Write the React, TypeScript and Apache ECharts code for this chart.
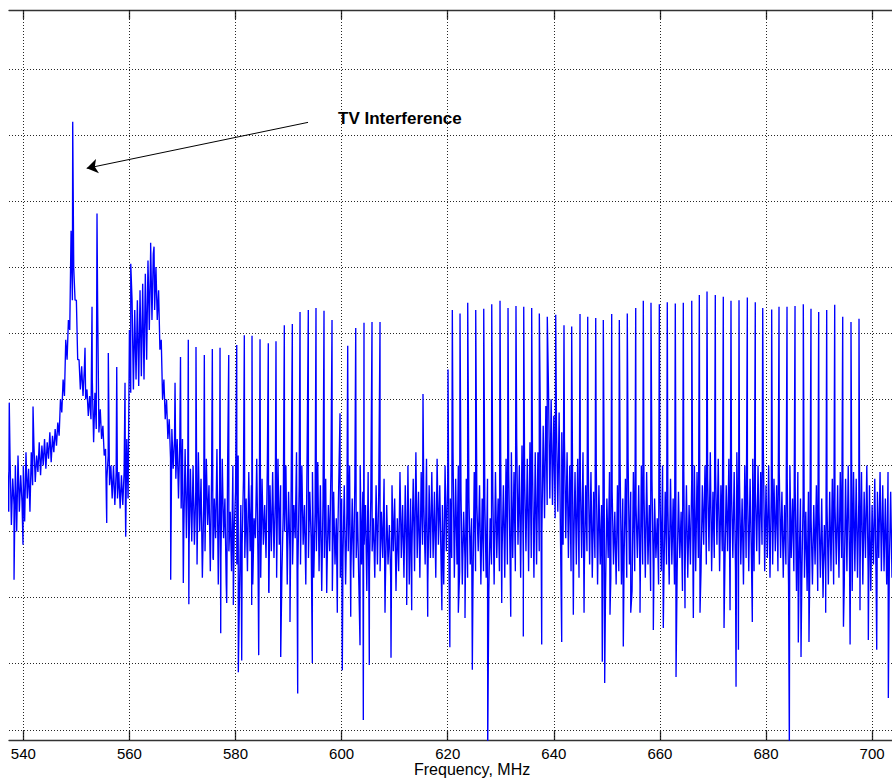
import React, { useEffect, useRef } from "react";
import * as echarts from "echarts";

// ---- axis ranges (MHz, dB) ----
const X_MIN = 537.3;
const X_MAX = 703.75;
const Y_MIN = -111.54;
const Y_MAX = -1.1;

const xTicks = [540, 560, 580, 600, 620, 640, 660, 680, 700];
const yGrid = [-110, -100, -90, -80, -70, -60, -50, -40, -30, -20, -10];

// ---- noise band: local max / min of the trace, every 0.5 MHz from 537.0 ----
const bandStart = 537.0;
const bandStep = 0.5;
const bandHi = [
  -71, -69, -72, -70, -68.5, -71.5, -70, -68, -70.5, -68,
  -67, -68.5, -66.5, -67, -66, -66.5, -65, -65.5, -64.5, -63.5,
  -60, -57, -51, -48, -34.5, -40, -45, -54, -55, -55.5,
  -58.5, -59.5, -57, -59, -45, -61.5, -64, -67.5, -68.5, -70,
  -70, -71, -71, -71.5, -71, -66, -49.5, -45, -46.5, -45,
  -43.5, -42.5, -41, -39, -37.5, -38, -40, -43.5, -51, -57,
  -60, -63, -64.5, -66, -66, -66, -66, -67.5, -70, -70.5,
  -70, -74, -68, -72, -76, -69, -73, -71, -75, -67.5,
  -73, -69, -75, -71, -77, -70, -74, -68.5, -76, -72,
  -75, -71, -73, -78, -69, -74, -72, -76, -70, -73,
  -71, -75, -69, -73, -77, -70, -74, -72, -76, -68,
  -73, -70, -76, -68, -74, -71, -77, -69.5, -73, -75,
  -72, -76, -70, -74, -78, -71, -75, -73, -77, -70,
  -75, -72, -77, -70, -74, -76, -71, -75, -78, -73,
  -74, -77, -72, -76, -79, -73, -75, -78, -71, -76,
  -73, -70, -75, -72, -68, -74, -71, -76, -69, -73,
  -71, -74, -69, -73, -76, -70, -72, -75, -68, -72,
  -70, -74, -77, -72, -75, -78, -71, -76, -73, -75,
  -76, -72, -78, -74, -71, -75, -70, -73, -69, -71,
  -68, -71, -66, -70, -67, -72, -69, -66.5, -71, -68,
  -68, -66, -64, -61, -58.5, -60, -62.5, -64, -62, -65,
  -66, -68, -70, -67, -71, -69, -72, -68, -73, -70,
  -71, -74, -70, -73, -76, -72, -75, -71, -74, -77,
  -73, -70, -75, -72, -69, -74, -71, -76, -73, -70,
  -74, -71, -76, -72, -75, -78, -73, -70, -74, -76,
  -72, -75, -70, -74, -77, -71, -73, -76, -72, -70,
  -71, -69, -73, -70, -72, -68, -74, -71, -69, -73,
  -70, -73, -69, -74, -71, -68, -72, -75, -70, -73,
  -72, -69, -74, -70, -71, -68, -73, -70, -74, -72,
  -73, -71, -74, -76, -72, -70, -75, -73, -71, -75,
  -75, -77, -74, -78, -76, -73, -77, -75, -79, -76,
  -74, -72, -76, -73, -71, -75, -72, -70, -74, -71,
  -72, -75, -71, -74, -70, -73, -76, -72, -74, -71,
  -73, -75, -71, -74, -72,
];
const bandLo = [
  -77, -79, -76, -80, -77, -75.5, -78.5, -75, -77, -73,
  -72.5, -71, -71.5, -70, -70.5, -69, -69.5, -68, -67, -65.5,
  -62, -59.5, -54, -49.5, -45, -45, -54, -58.5, -59.5, -60,
  -62.5, -63, -66.5, -64.5, -65, -66, -68.5, -72, -73, -75,
  -76, -75, -76.5, -76, -77, -75, -59, -58.5, -57, -58,
  -56.5, -57, -54, -49.5, -48, -46.5, -48, -52.5, -60, -63,
  -66, -69, -70.5, -72, -75, -76.5, -80, -81, -82, -81.5,
  -82, -85, -80, -87, -83, -79, -86, -84, -81, -88,
  -84, -81, -88, -83, -86, -80, -85, -89, -82, -84,
  -86, -83, -88, -81, -85, -87, -82, -84, -89, -83,
  -84, -87, -82, -86, -80, -88, -83, -85, -81, -86,
  -85, -82, -88, -84, -81, -87, -83, -86, -89, -84,
  -86, -83, -89, -85, -82, -87, -84, -88, -83, -86,
  -87, -84, -88, -85, -82, -89, -86, -83, -87, -85,
  -86, -84, -88, -85, -87, -83, -89, -86, -84, -87,
  -85, -88, -83, -86, -84, -87, -82, -85, -88, -84,
  -84, -87, -82, -85, -88, -83, -86, -84, -87, -85,
  -86, -88, -84, -87, -85, -89, -86, -83, -88, -86,
  -87, -89, -85, -88, -84, -86, -83, -87, -85, -84,
  -84, -86, -82, -87, -85, -83, -86, -84, -87, -85,
  -83, -80, -78, -76, -75, -76, -78, -77, -80, -82,
  -81, -84, -86, -83, -85, -87, -84, -86, -83, -85,
  -87, -84, -88, -85, -86, -89, -84, -87, -85, -88,
  -86, -88, -84, -87, -85, -89, -86, -84, -88, -85,
  -87, -85, -89, -86, -84, -88, -86, -87, -85, -88,
  -85, -88, -86, -84, -89, -86, -87, -85, -88, -86,
  -84, -86, -82, -85, -83, -86, -84, -82, -86, -83,
  -85, -83, -87, -84, -86, -82, -85, -88, -84, -86,
  -84, -86, -83, -85, -82, -86, -84, -87, -85, -83,
  -86, -84, -87, -85, -88, -84, -86, -89, -85, -87,
  -87, -89, -86, -88, -85, -89, -87, -90, -86, -88,
  -86, -88, -85, -87, -84, -88, -86, -85, -89, -86,
  -87, -85, -88, -84, -86, -89, -85, -87, -84, -86,
  -86, -88, -85, -87, -86,
];

// ---- upward spikes (carriers) ----
const peakFreq = [
  537.35, 541.83, 549.31, 551.63, 552.95, 553.89, 556.02, 557.61, 559.17, 560.25,
  564.0, 564.64, 568.6, 569.63, 571.1, 572.55, 574.12, 575.63, 577.08, 578.72,
  580.23, 581.66, 583.11, 584.62, 586.18, 587.63, 589.2, 590.71, 592.16, 593.72,
  595.17, 596.68, 598.19, 599.7, 601.15, 602.66, 604.22, 605.73, 607.24, 615.34,
  620.06, 620.87, 622.32, 623.77, 625.28, 626.79, 628.3, 629.86, 631.37, 632.87,
  634.33, 635.83, 637.27, 638.77, 640.36, 641.92, 643.37, 644.94, 646.39, 647.9,
  649.33, 650.91, 652.35, 653.85, 655.44, 656.87, 658.32, 659.89, 661.39, 662.9,
  664.41, 666.0, 667.43, 668.88, 670.44, 671.95, 673.4, 674.91, 676.48, 677.98,
  679.38, 681.07, 682.45, 683.96, 685.47, 687.03, 688.48, 689.93, 691.44, 692.95,
  694.46, 696.02, 697.53,
];
const peakTop = [
  -60.5, -61.1, -18.0, -52.2, -46.0, -31.9, -53.0, -55.1, -57.5, -39.5,
  -36.3, -36.9, -57.5, -53.6, -51.0, -52.1, -53.3, -52.4, -52.2, -53.3,
  -51.8, -50.3, -50.4, -50.9, -51.5, -51.2, -48.8, -48.6, -46.8, -46.5,
  -46.2, -46.6, -48.0, -62.1, -51.9, -49.2, -48.4, -48.3, -48.3, -59.2,
  -55.5, -46.5, -47.0, -45.4, -46.5, -46.3, -45.6, -45.1, -46.2, -45.9,
  -46.0, -46.2, -47.0, -47.5, -47.2, -48.8, -49.0, -47.1, -47.5, -47.7,
  -48.0, -47.1, -48.0, -47.0, -46.2, -45.1, -45.4, -45.6, -45.3, -45.5,
  -45.4, -45.1, -44.2, -43.7, -44.2, -44.5, -45.1, -45.0, -44.6, -45.3,
  -46.2, -46.4, -46.0, -46.0, -45.9, -45.6, -46.3, -46.8, -46.5, -45.7,
  -47.5, -48.3, -47.8,
];

// ---- downward spikes ----
const dipFreq = [
  538.25, 539.94, 555.72, 559.3, 567.78, 570.16, 571.2, 575.82, 577.21, 578.34,
  579.59, 580.53, 581.17, 583.05, 584.37, 586.3, 588.52, 590.27, 591.72, 594.48,
  597.19, 599.19, 600.13, 601.72, 603.47, 604.09, 605.22, 608.18, 609.31, 612.27,
  613.21, 616.23, 618.9, 620.4, 622.0, 623.26, 624.64, 627.54, 630.18, 631.88,
  634.25, 637.72, 641.49, 643.68, 645.7, 649.14, 649.59, 650.59, 653.1, 654.5,
  656.25, 658.76, 660.64, 663.04, 664.73, 666.3, 667.56, 672.09, 673.22, 674.35,
  674.8, 677.42, 684.4, 686.09, 686.6, 688.1, 691.25, 694.6, 695.85, 697.72,
  699.29, 700.87, 703.06,
];
const dipBottom = [
  -87.3, -82.0, -78.7, -80.8, -87.3, -87.8, -91.0, -84.3, -95.4, -90.8,
  -91.1, -101.3, -99.5, -91.1, -98.7, -89.3, -99.0, -93.7, -104.5, -99.9,
  -89.3, -92.3, -101.0, -92.9, -97.2, -108.5, -100.2, -92.3, -99.1, -91.1,
  -91.9, -92.9, -91.9, -97.5, -92.3, -93.1, -100.9, -113.0, -90.8, -92.9,
  -95.9, -97.1, -96.7, -92.6, -92.3, -99.7, -102.9, -92.6, -97.4, -92.3,
  -92.3, -94.9, -94.6, -102.0, -91.6, -93.1, -92.3, -94.6, -91.9, -103.5,
  -97.9, -93.7, -113.0, -96.8, -99.0, -96.7, -92.3, -94.4, -97.1, -91.9,
  -96.4, -97.9, -105.2,
];

// ---- annotation ----
const annotationText = "TV Interference";
const arrowFrom = [593.67, -18.1];
const arrowTo = [551.95, -25.05];
const xAxisTitle = "Frequency, MHz";

const FONT = "'Liberation Sans', Arial, Helvetica, sans-serif";

function buildTrace(): [number, number][] {
  const pts: [number, number][] = [];
  bandHi.forEach((h, i) => {
    const f = bandStart + i * bandStep;
    pts.push([f, h]);
    pts.push([f + bandStep / 2, bandLo[i]]);
  });
  peakFreq.forEach((f, i) => pts.push([f, peakTop[i]]));
  dipFreq.forEach((f, i) => pts.push([f, dipBottom[i]]));
  pts.sort((a, b) => a[0] - b[0]);
  return pts;
}

export default function App() {
  const ref = useRef<HTMLDivElement>(null);
  useEffect(() => {
    if (!ref.current) return;
    const chart = echarts.init(ref.current, undefined, { renderer: "svg" });
    const axisColor = "#333";
    const gridStyle = { color: "#000", width: 1, type: [1, 2] as any, opacity: 0.85 };
    const xBase = {
      type: "value" as const,
      min: X_MIN,
      max: X_MAX,
      splitLine: { show: false },
      axisLine: { show: true, onZero: false, lineStyle: { color: axisColor, width: 1.3 } },
      axisTick: {
        show: true,
        inside: true,
        length: 9,
        customValues: xTicks,
        lineStyle: { color: axisColor, width: 1.3 },
      },
    };
    chart.setOption({
      animation: false,
      backgroundColor: "#ffffff",
      grid: { left: 9, top: 10, width: 883, height: 730, containLabel: false },
      xAxis: [
        {
          ...xBase,
          position: "bottom",
          axisLabel: {
            show: true,
            customValues: xTicks,
            margin: 6,
            fontSize: 15,
            color: "#000",
            fontFamily: FONT,
          },
        },
        {
          ...xBase,
          position: "top",
          axisLabel: { show: false },
        },
      ],
      yAxis: {
        type: "value",
        min: Y_MIN,
        max: Y_MAX,
        axisLine: { show: false },
        axisTick: { show: false },
        axisLabel: { show: false },
        splitLine: { show: false },
      },
      graphic: [
        {
          type: "text",
          left: 338,
          top: 110,
          style: { text: annotationText, font: `bold 17px ${FONT}`, fill: "#000" },
        },
        {
          type: "text",
          left: 414,
          top: 761,
          style: { text: xAxisTitle, font: `16px ${FONT}`, fill: "#000" },
        },
      ],
      series: [
        {
          type: "line",
          data: buildTrace(),
          xAxisIndex: 0,
          yAxisIndex: 0,
          showSymbol: false,
          symbol: "none",
          z: 3,
          lineStyle: { color: "#0000ff", width: 1.35 },
          itemStyle: { color: "#0000ff" },
          markLine: {
            silent: true,
            z: 1,
            symbol: ["none", "none"],
            label: { show: false },
            lineStyle: gridStyle,
            emphasis: { disabled: true },
            data: [
              ...xTicks.map((v) => ({ xAxis: v })),
              ...yGrid.map((v) => ({ yAxis: v })),
            ],
          },
        },
        {
          type: "lines",
          coordinateSystem: "cartesian2d",
          xAxisIndex: 0,
          yAxisIndex: 0,
          z: 4,
          silent: true,
          symbol: ["none", "arrow"],
          symbolSize: 11,
          lineStyle: { color: "#000", width: 1, opacity: 1 },
          data: [{ coords: [arrowFrom, arrowTo] }],
        },
      ],
    });
    return () => chart.dispose();
  }, []);
  return (
    <div
      ref={ref}
      style={{ position: "fixed", left: 0, top: 0, width: 892, height: 781, background: "#fff" }}
    />
  );
}
